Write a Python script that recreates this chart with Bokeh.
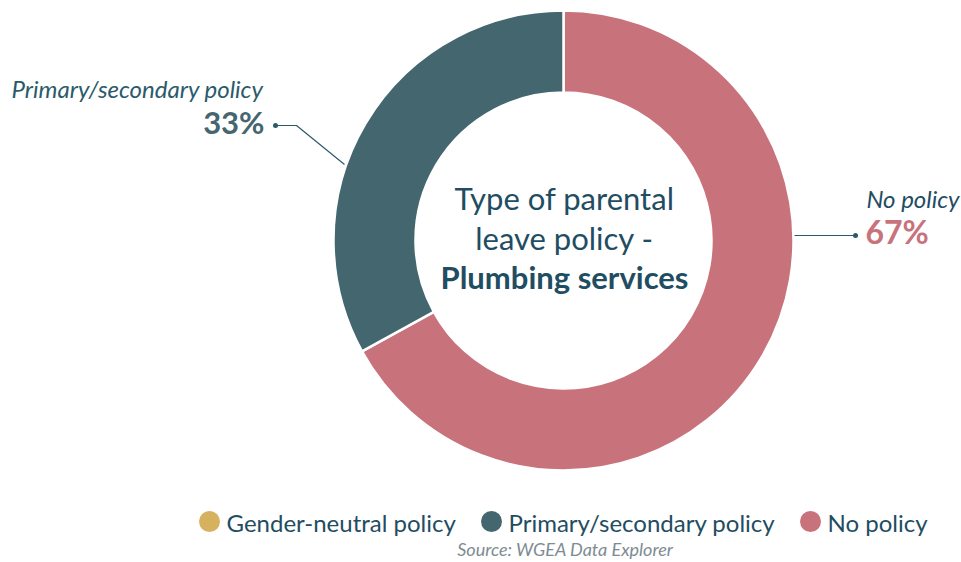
import math
from bokeh.plotting import figure
from bokeh.models import Range1d, ColumnDataSource
from bokeh.core.properties import value
from bokeh.embed import file_html
from bokeh.resources import INLINE

categories = ["Gender-neutral policy", "Primary/secondary policy", "No policy"]
shares = [0, 33, 67]
colors = ["#d7b25e", "#44666e", "#c8737b"]
title_lines = ["Type of parental", "leave policy -", "Plumbing services"]
source_note = "Source: WGEA Data Explorer"

W, H = 961, 562
FONT = "Lato"
NAVY = "#1f4d62"

p = figure(width=W, height=H, output_backend="svg", toolbar_location=None,
           x_range=Range1d(0, W), y_range=Range1d(0, H), min_border=0)
p.axis.visible = False
p.grid.visible = False
p.outline_line_color = None
p.background_fill_color = "white"
p.border_fill_color = "white"

def Y(py):
    return H - py

cx, cy = 563, Y(240)
R_out, R_in = 230, 148

# Wedges: start at top, go clockwise; "No policy" first
order = [2, 1, 0]
total = sum(shares)
start = math.pi / 2
starts, ends, cols = [], [], []
for i in order:
    sweep = shares[i] / total * 2 * math.pi
    if sweep <= 0:
        continue
    starts.append(start)
    ends.append(start - sweep)
    cols.append(colors[i])
    start -= sweep
src = ColumnDataSource(dict(x=[cx] * len(starts), y=[cy] * len(starts),
                            s=starts, e=ends, c=cols))
p.annular_wedge(x="x", y="y", inner_radius=R_in, outer_radius=R_out,
                start_angle="s", end_angle="e", direction="clock",
                fill_color="c", line_color="white", line_width=2.5, source=src)

# Center title
tys = [197, 237, 276]
for t, ty, fs in zip(title_lines, tys, ["normal", "normal", "bold"]):
    p.text(x=[cx + 1], y=[Y(ty)], text=[t], text_font=value(FONT),
           text_font_size="31px", text_font_style=fs, text_color=NAVY,
           text_align="center", text_baseline="middle")

# Primary/secondary label
p.text(x=[11], y=[Y(88)], text=[categories[1]], text_font=value(FONT),
       text_font_size="24px", text_font_style="italic", text_color="#2b5a6b",
       text_align="left", text_baseline="middle")
p.text(x=[264], y=[Y(121)], text=[f"{shares[1]}%"], text_font=value(FONT),
       text_font_size="31px", text_font_style="bold", text_color=colors[1],
       text_align="right", text_baseline="middle")
p.line(x=[275, 296, 344], y=[Y(125), Y(125), Y(164)], line_color="#2b5a6b", line_width=1.2)
p.scatter(x=[275], y=[Y(125)], size=5, fill_color="#2b5a6b", line_color=None)

# No policy label
p.text(x=[959], y=[Y(198)], text=[categories[2]], text_font=value(FONT),
       text_font_size="24px", text_font_style="italic", text_color=NAVY,
       text_align="right", text_baseline="middle")
p.text(x=[865], y=[Y(231)], text=[f"{shares[2]}%"], text_font=value(FONT),
       text_font_size="32px", text_font_style="bold", text_color=colors[2],
       text_align="left", text_baseline="middle")
p.line(x=[794, 855], y=[Y(235), Y(235)], line_color="#2b5a6b", line_width=1.2)
p.scatter(x=[855], y=[Y(235)], size=5, fill_color="#2b5a6b", line_color=None)

# Legend
lx = [209, 491, 810]
for x0, name, col in zip(lx, categories, colors):
    p.scatter(x=[x0], y=[Y(521)], size=21, fill_color=col, line_color=None)
    p.text(x=[x0 + 17], y=[Y(522)], text=[name], text_font=value(FONT),
           text_font_size="24px", text_color=NAVY, text_align="left",
           text_baseline="middle")

p.text(x=[565], y=[Y(548)], text=[source_note], text_font=value(FONT),
       text_font_size="18px", text_font_style="italic", text_color="#7d8c92",
       text_align="center", text_baseline="middle")

open("out.html", "w").write(file_html(p, INLINE))
